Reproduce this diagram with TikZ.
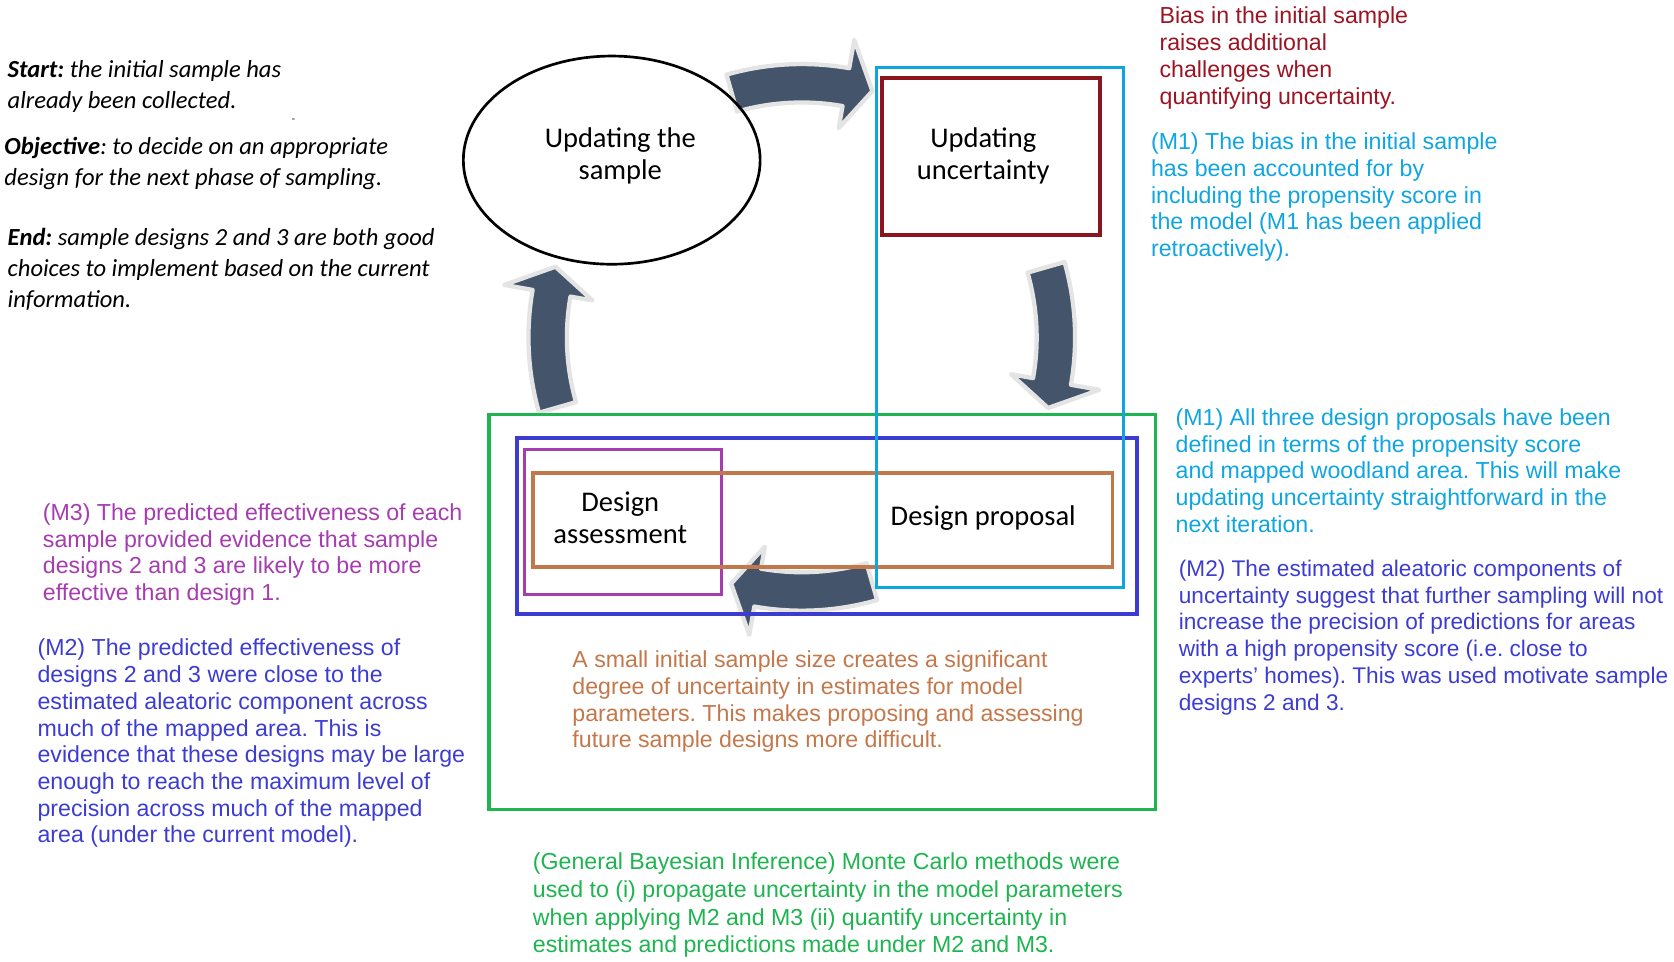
\documentclass[tikz,border=0pt]{standalone}
\usepackage{fontspec}
\setmainfont{Carlito}
\newfontfamily\arialfont{Liberation Sans}
\usetikzlibrary{shapes.geometric}
\frenchspacing

\definecolor{arrowgrey}{RGB}{68,84,106}
\definecolor{glowgrey}{RGB}{228,228,228}
\definecolor{biasred}{RGB}{155,20,35}
\definecolor{boxred}{RGB}{140,20,30}
\definecolor{skyblue}{RGB}{15,165,225}
\definecolor{deepblue}{RGB}{60,60,210}
\definecolor{plum}{RGB}{165,60,175}
\definecolor{clay}{RGB}{195,120,75}
\definecolor{leafgreen}{RGB}{30,180,80}

\newcommand{\cyclearc}[2]{%
  \pgfmathsetmacro{\headang}{#2+6}%
  \draw[cyclearrow] (#1:220) arc[start angle=#1, end angle=\headang, radius=220]
    -- (\headang:199) -- (#2:240) -- (\headang:283) -- (\headang:256)
    arc[start angle=\headang, end angle=#1, radius=256] -- cycle;}

\begin{document}
\begin{tikzpicture}[x=1pt,y=1pt,
  cyclearrow/.style={fill=arrowgrey, draw=glowgrey, line width=4, line join=round},
  boxtext/.style={align=center, inner sep=0pt, font=\fontsize{26.7}{30}\selectfont},
  lefttext/.style={anchor=north west, align=left, inner sep=0pt, font=\itshape\fontsize{23}{29}\selectfont},
  note/.style={anchor=north west, align=left, inner sep=0pt, font=\arialfont\fontsize{21.7}{25}\selectfont}]
\useasboundingbox (0,0) rectangle (1568,-901);
\coordinate (hub) at (751,-316);
\begin{scope}[shift={(hub)}]
\cyclearc{106}{74}
\cyclearc{16}{-16}
\cyclearc{-74}{-106}
\cyclearc{196}{164}
\end{scope}
\draw[leafgreen, line width=3] (458,-388) rectangle (1082,-758);
\draw[deepblue, line width=3.5] (484,-410) rectangle (1065,-575);
\draw[plum, line width=3] (491,-421) rectangle (676,-557);
\draw[clay, line width=3.5] (499,-443) rectangle (1042,-531);
\draw[skyblue, line width=3] (821,-63) rectangle (1052,-550);
\node[draw, ellipse, line width=2.5, minimum width=278, minimum height=195] (upd) at (573,-150) {};
\node[draw=boxred, line width=3.5, minimum width=204, minimum height=147] (unc) at (928,-146.5) {};
\node[boxtext] (updtext) at (581,-146) {Updating the\\sample};
\node[boxtext] (unctext) at (921,-146) {Updating\\uncertainty};
\node[boxtext] (assess) at (581,-485) {Design\\assessment};
\node[boxtext] (prop) at (921,-485) {Design proposal};
\node[lefttext] (start) at (7,-56) {\textbf{Start:} the initial sample has\\already been collected.};
\node (dash) at (275,-113) {\fontsize{10}{10}\selectfont -};
\node[lefttext] (goal) at (4,-128) {\textbf{Objective}: to decide on an appropriate\\design for the next phase of sampling.};
\node[lefttext] (finish) at (7,-214) {\textbf{End:} sample designs 2 and 3 are both good\\choices to implement based on the current\\information.};
\node[note, text=biasred] (bias) at (1086,-6.5) {Bias in the initial sample\\raises additional\\challenges when\\quantifying uncertainty.};
\node[note, text=skyblue] (mbias) at (1078,-124.5) {(M1) The bias in the initial sample\\has been accounted for by\\including the propensity score in\\the model (M1 has been applied\\retroactively).};
\node[note, text=skyblue] (mprop) at (1101,-382.5) {(M1) All three design proposals have been\\defined in terms of the propensity score\\and mapped woodland area. This will make\\updating uncertainty straightforward in the\\next iteration.};
\node[note, text=deepblue, font=\arialfont\fontsize{21.2}{25}\selectfont] (malea) at (1104,-524.5) {(M2) The estimated aleatoric components of\\uncertainty suggest that further sampling will not\\increase the precision of predictions for areas\\with a high propensity score (i.e. close to\\experts’ homes). This was used motivate sample\\designs 2 and 3.};
\node[note, text=plum] (meff) at (40,-471.5) {(M3) The predicted effectiveness of each\\sample provided evidence that sample\\designs 2 and 3 are likely to be more\\effective than design 1.};
\node[note, text=deepblue] (mpred) at (35,-598.5) {(M2) The predicted effectiveness of\\designs 2 and 3 were close to the\\estimated aleatoric component across\\much of the mapped area. This is\\evidence that these designs may be large\\enough to reach the maximum level of\\precision across much of the mapped\\area (under the current model).};
\node[note, text=clay] (small) at (536,-609.5) {A small initial sample size creates a significant\\degree of uncertainty in estimates for model\\parameters. This makes proposing and assessing\\future sample designs more difficult.};
\node[note, text=leafgreen, font=\arialfont\fontsize{21.7}{26}\selectfont] (bayes) at (499,-798.5) {(General Bayesian Inference) Monte Carlo methods were\\used to (i) propagate uncertainty in the model parameters\\when applying M2 and M3 (ii) quantify uncertainty in\\estimates and predictions made under M2 and M3.};
\end{tikzpicture}
\end{document}
